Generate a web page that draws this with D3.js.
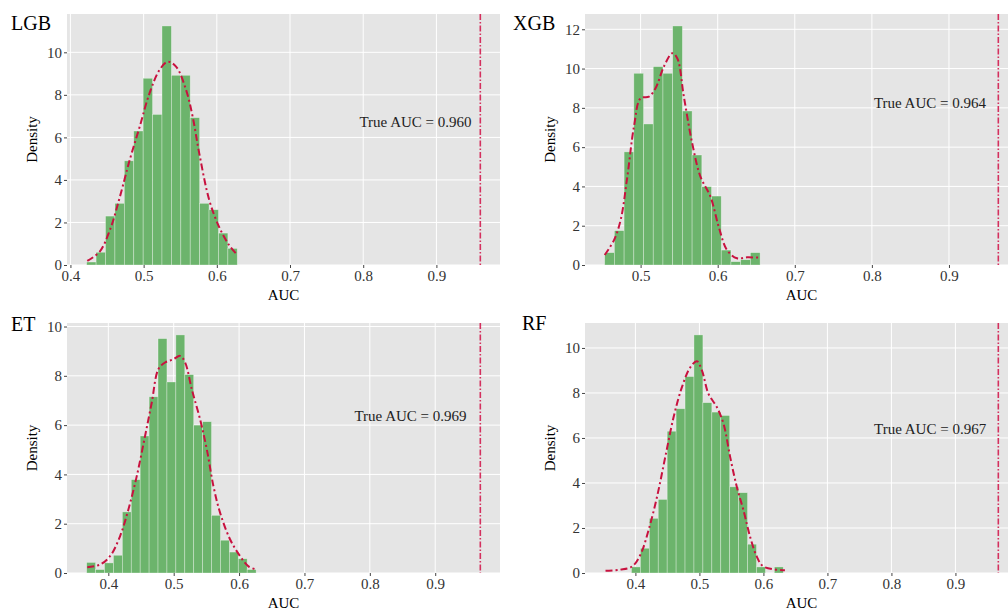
<!DOCTYPE html>
<html>
<head>
<meta charset="utf-8">
<script src="https://d3js.org/d3.v7.min.js"></script>
<style>
  body { margin: 0; background: #fff; }
  svg { display: block; font-family: "Liberation Serif", "Times New Roman", serif; }
</style>
</head>
<body>
<svg id="chart"></svg>
<script>
// model names and the observed AUC
const models = ["LGB", "XGB", "ET", "RF"];
const trueAUC = [0.960, 0.964, 0.969, 0.967];
const labelY = [6.74, 8.25, 6.37, 6.4];

// histogram bins (density per bin)
const binStart = [0.4222, 0.4534, 0.3669, 0.3520];
const binWidth = [0.01286, 0.0126, 0.01364, 0.01395];
const lgbBars = [0.14, 0.6, 2.3, 2.9, 4.9, 6.3, 8.78, 7.08, 11.24, 8.92, 8.92, 6.93, 2.9, 2.6, 1.5, 0.78];
const xgbBars = [0.63, 1.75, 5.76, 9.76, 7.18, 10.1, 9.76, 12.17, 7.84, 5.6, 3.99, 3.51, 0.76, 0.17, 0.27, 0.63];
const etBars = [0.43, 0.14, 0.41, 0.72, 2.48, 3.79, 5.56, 7.15, 9.51, 7.75, 9.66, 8.05, 6.0, 6.14, 2.34, 1.33, 0.85, 0.58, 0.14];
const rfBars = [0, 0, 0, 0.27, 1.1, 2.43, 3.27, 6.3, 7.3, 8.73, 10.58, 7.57, 7.15, 7.0, 3.83, 3.57, 1.28, 0.27, 0, 0.27];

// density curves [AUC, density]
const lgbDens = [[0.423,0.19],[0.440,0.63],[0.454,1.65],[0.4675,3.2],[0.481,4.94],[0.4946,6.5],[0.508,8.07],
  [0.5217,9.17],[0.533,9.56],[0.5443,9.33],[0.558,8.23],[0.567,6.97],[0.576,5.25],[0.5896,3.06],
  [0.603,1.8],[0.6167,0.94],[0.628,0.47]];
const xgbDens = [[0.4534,0.51],[0.4655,1.27],[0.4741,2.29],[0.4828,4.5],[0.4914,7.05],[0.5,8.49],[0.5108,8.57],
  [0.5194,9.0],[0.5302,10.1],[0.541,10.78],[0.5475,10.53],[0.5561,8.57],[0.5669,6.2],[0.5776,4.5],
  [0.5906,3.48],[0.6013,1.95],[0.6121,0.76],[0.625,0.34],[0.638,0.39],[0.655,0.37]];
const etDens = [[0.3678,0.23],[0.3873,0.34],[0.4026,0.68],[0.4179,1.49],[0.4306,2.57],[0.4435,3.93],[0.4562,5.56],
  [0.4664,6.91],[0.4766,8.27],[0.4868,8.54],[0.4995,8.67],[0.5098,8.81],[0.5175,8.54],[0.5277,7.45],
  [0.5404,6.23],[0.5507,5.01],[0.5608,3.52],[0.571,2.44],[0.5863,1.36],[0.6016,0.68],[0.6144,0.27],[0.6262,0.14]];
const rfDens = [[0.3533,0.1],[0.3766,0.15],[0.3948,0.29],[0.4078,0.81],[0.4207,1.92],[0.4338,3.39],[0.4467,5.16],
  [0.4597,6.93],[0.4727,8.26],[0.4857,9.14],[0.4961,9.41],[0.5039,9.0],[0.5142,7.96],[0.5273,7.37],
  [0.5376,6.64],[0.548,5.16],[0.5584,3.83],[0.5687,2.8],[0.5791,1.62],[0.5895,0.74],[0.5999,0.29],[0.6336,0.12]];

const xTicks = [0.4, 0.5, 0.6, 0.7, 0.8, 0.9];
const yTicks = [0, 2, 4, 6, 8, 10, 12];

const bars = [lgbBars, xgbBars, etBars, rfBars];
const dens = [lgbDens, xgbDens, etDens, rfDens];

const width = 1008, height = 610;
const svg = d3.select("#chart").attr("width", width).attr("height", height);

// panel frames
const frames = [
  {x0: 67, x1: 500, y0: 14, y1: 265, tx: 11, ty: 30},
  {x0: 585, x1: 1018, y0: 14, y1: 265, tx: 513, ty: 30},
  {x0: 67, x1: 500, y0: 323, y1: 573, tx: 11, ty: 331},
  {x0: 585, x1: 1018, y0: 323, y1: 573, tx: 522, ty: 330}
];

const redLine = "#c8123f";

models.forEach(function(name, i) {
  const f = frames[i];
  const lo = binStart[i], hi = trueAUC[i];
  const pad = (hi - lo) * 0.05;
  const x = d3.scaleLinear().domain([lo - pad, hi + pad]).range([f.x0, f.x1]);
  const y = d3.scaleLinear().domain([0, d3.max(bars[i]) * 1.05]).range([f.y1, f.y0]);
  const g = svg.append("g");

  g.append("rect")
    .attr("x", f.x0).attr("y", f.y0)
    .attr("width", f.x1 - f.x0).attr("height", f.y1 - f.y0)
    .attr("fill", "#e5e5e5");

  const xt = xTicks.filter(d => d >= x.domain()[0] && d <= x.domain()[1]);
  const yt = yTicks.filter(d => d <= y.domain()[1]);

  // grid
  g.selectAll(".vg").data(xt).enter().append("line")
    .attr("x1", d => x(d)).attr("x2", d => x(d))
    .attr("y1", f.y0).attr("y2", f.y1)
    .attr("stroke", "#fff").attr("stroke-width", 1);
  g.selectAll(".hg").data(yt).enter().append("line")
    .attr("x1", f.x0).attr("x2", f.x1)
    .attr("y1", d => y(d)).attr("y2", d => y(d))
    .attr("stroke", "#fff").attr("stroke-width", 1);

  // histogram
  g.selectAll(".bar").data(bars[i]).enter().append("rect")
    .attr("x", (d, k) => x(binStart[i] + k * binWidth[i]))
    .attr("width", (d, k) => x(binStart[i] + (k + 1) * binWidth[i]) - x(binStart[i] + k * binWidth[i]))
    .attr("y", d => y(d))
    .attr("height", d => f.y1 - y(d))
    .attr("fill", "#6cb46c")
    .attr("stroke", "rgba(255,255,255,0.45)")
    .attr("stroke-width", 0.7);

  // density curve
  const line = d3.line().x(d => x(d[0])).y(d => y(d[1])).curve(d3.curveCatmullRom);
  g.append("path")
    .attr("d", line(dens[i]))
    .attr("fill", "none")
    .attr("stroke", redLine)
    .attr("stroke-width", 2)
    .attr("stroke-dasharray", "7,3,2,3");

  // true AUC line
  g.append("line")
    .attr("x1", x(trueAUC[i])).attr("x2", x(trueAUC[i]))
    .attr("y1", f.y0).attr("y2", f.y1)
    .attr("stroke", "#d4305e")
    .attr("stroke-width", 1.6)
    .attr("stroke-dasharray", "6,2,1.5,2");

  g.append("text")
    .attr("x", x(0.948)).attr("y", y(labelY[i]))
    .attr("text-anchor", "end")
    .attr("dy", "0.35em")
    .attr("font-size", 15)
    .attr("fill", "#222")
    .text("True AUC = " + trueAUC[i].toFixed(3));

  // axes
  const xa = g.append("g").attr("transform", "translate(0," + f.y1 + ")")
    .call(d3.axisBottom(x).tickValues(xt).tickFormat(d3.format(".1f")).tickSize(3).tickPadding(2));
  const ya = g.append("g").attr("transform", "translate(" + f.x0 + ",0)")
    .call(d3.axisLeft(y).tickValues(yt).tickFormat(d3.format("d")).tickSize(3).tickPadding(2));
  [xa, ya].forEach(function(a) {
    a.select(".domain").remove();
    a.selectAll(".tick line").attr("stroke", "#444");
    a.selectAll(".tick text")
      .attr("font-family", "Liberation Serif, serif")
      .attr("font-size", 15)
      .attr("fill", "#333");
  });

  // labels
  g.append("text")
    .attr("x", (f.x0 + f.x1) / 2).attr("y", f.y1 + 35)
    .attr("text-anchor", "middle")
    .attr("font-size", 15)
    .text("AUC");
  g.append("text")
    .attr("transform", "translate(" + (f.x0 - 30) + "," + ((f.y0 + f.y1) / 2) + ") rotate(-90)")
    .attr("text-anchor", "middle")
    .attr("font-size", 15)
    .text("Density");
  g.append("text")
    .attr("x", f.tx).attr("y", f.ty)
    .attr("font-size", 20)
    .text(name);
});
</script>
</body>
</html>
